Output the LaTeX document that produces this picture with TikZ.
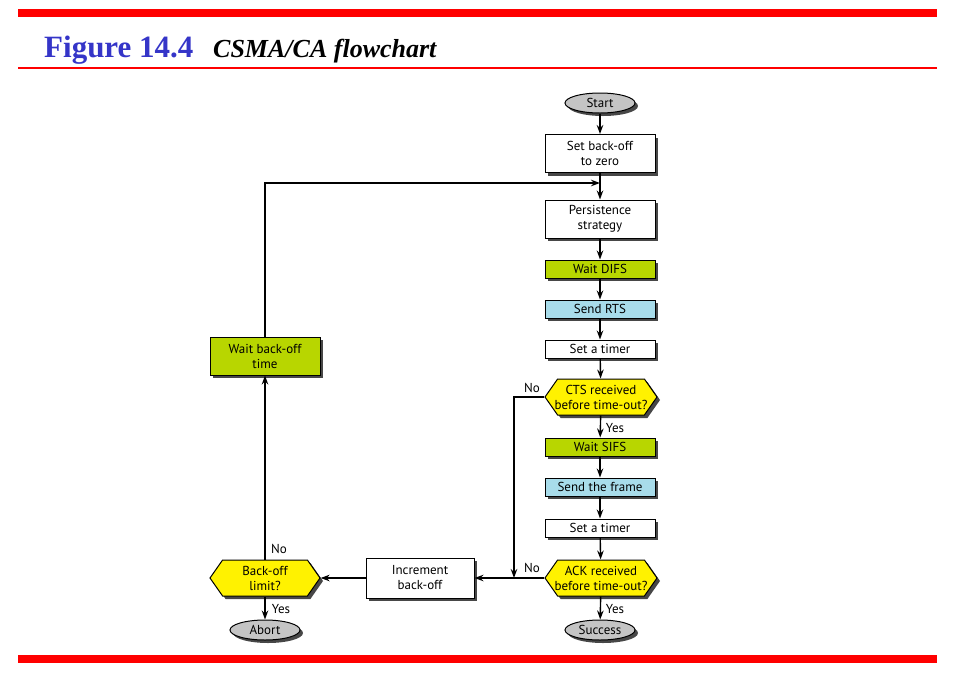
\documentclass[tikz,border=0pt]{standalone}
\usepackage{fontspec}
\setmainfont{Liberation Serif}
\newfontfamily\diagfont{PT Sans}
\usetikzlibrary{arrows.meta,shapes.geometric,shapes.symbols,shadows}
\definecolor{lime}{HTML}{B8D600}
\definecolor{ltblue}{HTML}{A8DCEA}
\definecolor{ttlblue}{HTML}{3535C8}
\definecolor{ovalgray}{HTML}{C4C4C4}
\begin{document}
\begin{tikzpicture}[x=1pt,y=-1pt,
  shade/.style={drop shadow={shadow xshift=3pt,shadow yshift=-3pt,opacity=0.9,fill=black!80}},
  base/.style={draw,line width=1pt,font=\diagfont\fontsize{13}{15}\selectfont,align=center,inner sep=1pt},
  box/.style={base,shade,rectangle,fill=white,minimum width=110pt},
  onebox/.style={box,minimum height=18pt},
  twobox/.style={box,minimum height=38pt},
  hexa/.style={base,shade,signal,signal to=west and east,signal pointer angle=110,fill=yellow,minimum width=112pt,minimum height=36pt,inner xsep=-3.5pt},
  oval/.style={base,shade,ellipse,fill=ovalgray,minimum width=70pt,minimum height=20pt,inner sep=0pt},
  arr/.style={line width=1.4pt,-{Stealth[length=9pt,width=6.5pt]}},
  lbl/.style={font=\diagfont\fontsize{13}{14}\selectfont,inner sep=0pt}
]
\useasboundingbox (0,0) rectangle (954,678);
% frame
\fill[red] (18,9) rectangle (937,17);
\fill[red] (18,67) rectangle (937,69);
\fill[red] (18,655) rectangle (937,663);
\node[anchor=base west,inner sep=0pt,font=\bfseries\fontsize{31}{34}\selectfont,text=ttlblue] (fig) at (44,57) {Figure 14.4};
\node[anchor=base west,inner sep=0pt,font=\bfseries\itshape\fontsize{26}{29}\selectfont] (ttl) at (213,57) {CSMA/CA flowchart};

% main column
\node[oval] (start) at (600,103) {Start};
\node[twobox] (zero) at (600,153.5) {Set back-off\\to zero};
\node[twobox] (persist) at (600,219) {Persistence\\strategy};
\node[onebox,fill=lime] (difs) at (600,269) {Wait DIFS};
\node[onebox,fill=ltblue] (rts) at (600,309) {Send RTS};
\node[onebox] (timer1) at (600,349) {Set a timer};
\node[hexa] (cts) at (601,397) {CTS received\\before time-out?};
\node[onebox,fill=lime] (sifs) at (600,447) {Wait SIFS};
\node[onebox,fill=ltblue] (frame) at (600,487) {Send the frame};
\node[onebox] (timer2) at (600,528) {Set a timer};
\node[hexa] (ack) at (601,578) {ACK received\\before time-out?};
\node[oval] (success) at (600,630) {Success};

% left part
\node[twobox,minimum width=108pt,minimum height=40pt] (incr) at (420,578) {Increment\\back-off};
\node[hexa,minimum width=110pt] (limit) at (265,578) {Back-off\\limit?};
\node[twobox,fill=lime] (wait) at (265,356) {Wait back-off\\time};
\node[oval] (abort) at (265,630) {Abort};

\coordinate (j) at (600,183);
\coordinate (c1) at (514,578);

\draw[arr] (start) -- (zero);
\draw[arr] (zero) -- (persist);
\draw[arr] (persist) -- (difs);
\draw[arr] (difs) -- (rts);
\draw[arr] (rts) -- (timer1);
\draw[arr] (timer1) -- (cts);
\draw[arr] (cts) -- (sifs);
\draw[arr] (sifs) -- (frame);
\draw[arr] (frame) -- (timer2);
\draw[arr] (timer2) -- (ack);
\draw[arr] (ack) -- (success);
\draw[arr] (cts.west) -| (c1);
\draw[arr] (ack.west) -- (incr.east);
\draw[arr] (incr.west) -- (limit.east);
\draw[arr] (limit.north) -- (wait.south);
\draw[arr] (limit.south) -- (abort.north);
\draw[arr] (wait.north) |- (j);

\node[lbl] (n1) at (532,388) {No};
\node[lbl] (y1) at (615,428) {Yes};
\node[lbl] (n2) at (532,568) {No};
\node[lbl] (y2) at (615,609) {Yes};
\node[lbl] (n3) at (279,549) {No};
\node[lbl] (y3) at (281,609) {Yes};
\end{tikzpicture}
\end{document}
